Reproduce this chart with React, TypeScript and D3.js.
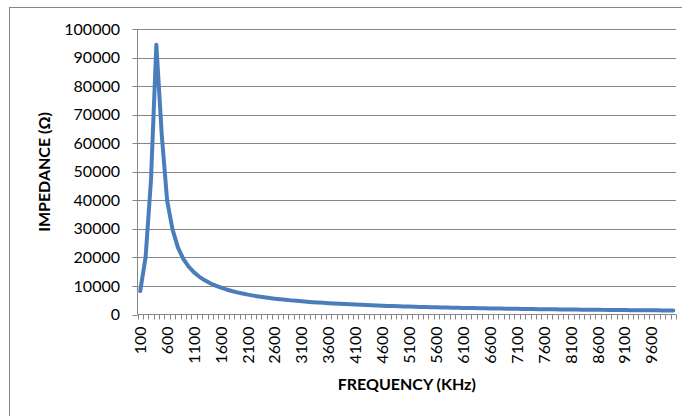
import React, { useRef, useEffect } from "react";
import * as d3 from "d3";

// frequency categories (KHz), 100 .. 10000 step 100
const frequencies: number[] = [
  100, 200, 300, 400, 500, 600, 700, 800, 900, 1000,
  1100, 1200, 1300, 1400, 1500, 1600, 1700, 1800, 1900, 2000,
  2100, 2200, 2300, 2400, 2500, 2600, 2700, 2800, 2900, 3000,
  3100, 3200, 3300, 3400, 3500, 3600, 3700, 3800, 3900, 4000,
  4100, 4200, 4300, 4400, 4500, 4600, 4700, 4800, 4900, 5000,
  5100, 5200, 5300, 5400, 5500, 5600, 5700, 5800, 5900, 6000,
  6100, 6200, 6300, 6400, 6500, 6600, 6700, 6800, 6900, 7000,
  7100, 7200, 7300, 7400, 7500, 7600, 7700, 7800, 7900, 8000,
  8100, 8200, 8300, 8400, 8500, 8600, 8700, 8800, 8900, 9000,
  9100, 9200, 9300, 9400, 9500, 9600, 9700, 9800, 9900, 10000,
];

// impedance (ohm)
const impedance: number[] = [
  8200, 20000, 47000, 94500, 63000, 40000, 29800, 23500, 19500, 16760,
  14750, 13200, 11960, 10950, 10100, 9390, 8770, 8230, 7760, 7330,
  6960, 6620, 6310, 6030, 5780, 5550, 5330, 5130, 4950, 4780,
  4620, 4470, 4330, 4200, 4080, 3960, 3850, 3750, 3650, 3560,
  3470, 3380, 3300, 3230, 3150, 3080, 3020, 2950, 2890, 2830,
  2780, 2720, 2670, 2620, 2570, 2530, 2480, 2440, 2400, 2360,
  2320, 2280, 2240, 2210, 2170, 2140, 2110, 2080, 2050, 2020,
  1990, 1960, 1930, 1910, 1880, 1860, 1830, 1810, 1790, 1760,
  1740, 1720, 1700, 1680, 1660, 1640, 1620, 1600, 1590, 1570,
  1550, 1530, 1520, 1500, 1480, 1470, 1450, 1440, 1420, 1410,
];

const yTicks: number[] = [0, 10000, 20000, 30000, 40000, 50000, 60000, 70000, 80000, 90000, 100000];
const xLabels: number[] = [100, 600, 1100, 1600, 2100, 2600, 3100, 3600, 4100, 4600, 5100, 5600, 6100, 6600, 7100, 7600, 8100, 8600, 9100, 9600];

const W = 682;
const H = 416;
const plot = { left: 137.5, right: 676, top: 29, bottom: 314.5 };
const grey = "#868686";
const font = "Lato, 'Open Sans', sans-serif";

const App: React.FC = () => {
  const svgRef = useRef<SVGSVGElement | null>(null);

  useEffect(() => {
    if (!svgRef.current) return;
    const svg = d3.select(svgRef.current);
    svg.selectAll("*").remove();

    const x = d3
      .scaleBand<number>()
      .domain(frequencies)
      .range([plot.left, plot.right])
      .padding(0);
    const y = d3.scaleLinear().domain([0, 100000]).range([plot.bottom, plot.top]);

    // chart border (only top/left visible in crop)
    svg
      .append("rect")
      .attr("x", 9.5)
      .attr("y", 7.5)
      .attr("width", W + 20)
      .attr("height", H + 20)
      .attr("fill", "white")
      .attr("stroke", grey)
      .attr("stroke-width", 1);

    // gridlines
    svg
      .selectAll(".grid")
      .data(yTicks.filter((d) => d > 0))
      .enter()
      .append("line")
      .attr("x1", plot.left)
      .attr("x2", plot.right)
      .attr("y1", (d) => Math.round(y(d)) + 0.5)
      .attr("y2", (d) => Math.round(y(d)) + 0.5)
      .attr("stroke", grey)
      .attr("stroke-width", 1);

    // y axis
    const yAxis = svg.append("g");
    yAxis
      .append("line")
      .attr("x1", plot.left)
      .attr("x2", plot.left)
      .attr("y1", plot.top)
      .attr("y2", plot.bottom)
      .attr("stroke", grey);
    yAxis
      .selectAll(".ytick")
      .data(yTicks)
      .enter()
      .append("line")
      .attr("x1", plot.left - 5)
      .attr("x2", plot.left)
      .attr("y1", (d) => Math.round(y(d)) + 0.5)
      .attr("y2", (d) => Math.round(y(d)) + 0.5)
      .attr("stroke", grey);
    yAxis
      .selectAll(".ylab")
      .data(yTicks)
      .enter()
      .append("text")
      .attr("x", 120)
      .attr("y", (d) => y(d))
      .attr("dy", "0.35em")
      .attr("text-anchor", "end")
      .attr("font-family", font)
      .attr("font-size", 16)
      .attr("fill", "#000")
      .text((d) => d);

    // x axis
    const xAxis = svg.append("g");
    xAxis
      .append("line")
      .attr("x1", plot.left)
      .attr("x2", plot.right)
      .attr("y1", plot.bottom)
      .attr("y2", plot.bottom)
      .attr("stroke", grey);
    const bounds = frequencies.map((f) => x(f)!).concat([plot.right]);
    xAxis
      .selectAll(".xtick")
      .data(bounds)
      .enter()
      .append("line")
      .attr("x1", (d) => Math.round(d) + 0.5)
      .attr("x2", (d) => Math.round(d) + 0.5)
      .attr("y1", plot.bottom)
      .attr("y2", plot.bottom + 5)
      .attr("stroke", grey);
    xAxis
      .selectAll(".xlab")
      .data(xLabels)
      .enter()
      .append("text")
      .attr(
        "transform",
        (d) => `translate(${x(d)! + x.bandwidth() / 2},${plot.bottom + 12}) rotate(-90)`
      )
      .attr("dy", "0.35em")
      .attr("text-anchor", "end")
      .attr("font-family", font)
      .attr("font-size", 16)
      .attr("fill", "#000")
      .text((d) => d);

    // line
    const line = d3
      .line<number>()
      .x((_, i) => x(frequencies[i])! + x.bandwidth() / 2)
      .y((d) => y(d));
    svg
      .append("path")
      .datum(impedance)
      .attr("d", line)
      .attr("fill", "none")
      .attr("stroke", "#4a7ebb")
      .attr("stroke-width", 4)
      .attr("stroke-linejoin", "round")
      .attr("stroke-linecap", "round");

    // titles
    svg
      .append("text")
      .attr("transform", `translate(50,172) rotate(-90)`)
      .attr("text-anchor", "middle")
      .attr("font-family", font)
      .attr("font-weight", "bold")
      .attr("font-size", 16)
      .attr("fill", "#000")
      .text("IMPEDANCE (Ω)");
    svg
      .append("text")
      .attr("x", (plot.left + plot.right) / 2)
      .attr("y", 390)
      .attr("text-anchor", "middle")
      .attr("font-family", font)
      .attr("font-weight", "bold")
      .attr("font-size", 16)
      .attr("fill", "#000")
      .text("FREQUENCY (KHz)");
  }, []);

  return (
    <svg
      ref={svgRef}
      width={W}
      height={H}
      style={{ position: "absolute", left: 0, top: 0, background: "#fff" }}
    ></svg>
  );
};

export default App;
